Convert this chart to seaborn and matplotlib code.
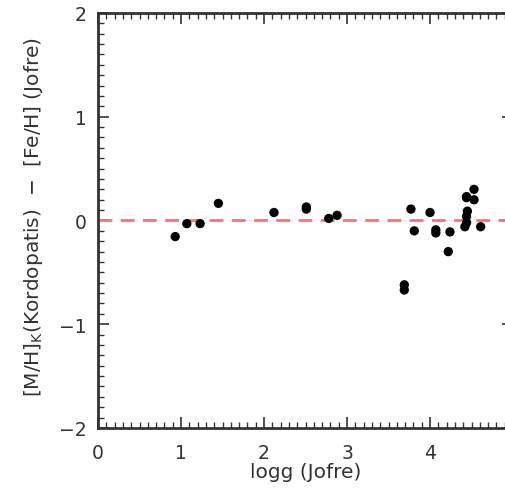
import numpy as np
import pandas as pd
import matplotlib
matplotlib.use("Agg")
import matplotlib.pyplot as plt
import seaborn as sns
from matplotlib.ticker import MultipleLocator

# logg (Jofre) and [M/H]_K(Kordopatis) - [Fe/H](Jofre)
logg = [0.93, 1.07, 1.23, 1.45, 2.12, 2.51, 2.51, 2.78, 2.88,
        3.69, 3.69, 3.77, 3.81, 4.00, 4.07, 4.07, 4.22, 4.24,
        4.44, 4.44, 4.53, 4.53, 4.45, 4.44, 4.44, 4.42, 4.61]
dmh = [-0.155, -0.03, -0.03, 0.165, 0.077, 0.13, 0.11, 0.02, 0.05,
       -0.62, -0.67, 0.11, -0.10, 0.077, -0.09, -0.12, -0.30, -0.11,
       0.23, 0.22, 0.30, 0.20, 0.09, 0.04, -0.02, -0.06, -0.06]

df = pd.DataFrame({"logg": logg, "dmh": dmh})

sns.set_theme(style="ticks")
plt.rcParams["font.family"] = ["DejaVu Sans"]

fig = plt.figure(figsize=(5.06, 4.89), dpi=100)
ax = fig.add_axes([0.1937, 0.1227, 0.8202, 0.8487])

ax.axhline(0, color="#ff7070", lw=2, ls=(0, (5, 3)), zorder=1)
sns.scatterplot(x="logg", y="dmh", data=df, color="black", s=45,
                edgecolor="none", ax=ax, zorder=3)

ax.set_xlim(0, 5)
ax.set_ylim(-2, 2)
ax.xaxis.set_major_locator(MultipleLocator(1))
ax.xaxis.set_minor_locator(MultipleLocator(0.1))
ax.yaxis.set_major_locator(MultipleLocator(1))
ax.yaxis.set_minor_locator(MultipleLocator(0.1))
ax.tick_params(which="both", direction="in", top=True, right=True,
               color="#333333", labelsize=13.5, labelcolor="#333333")
ax.tick_params(which="major", length=8, width=1.2, pad=11)
ax.tick_params(axis="y", which="major", pad=8)
ax.tick_params(which="minor", length=4, width=1)
for sp in ax.spines.values():
    sp.set_linewidth(2)
    sp.set_color("#333333")

ax.set_xlabel("logg (Jofre)", fontsize=14.5, color="#333333", labelpad=0)
ax.set_ylabel(r"[M/H]$_{\rm K}$(Kordopatis)  $-$  [Fe/H] (Jofre)",
              fontsize=14.5, color="#333333")
ax.yaxis.set_label_coords(-0.128, 0.51)

fig.savefig("out.png", dpi=100)
